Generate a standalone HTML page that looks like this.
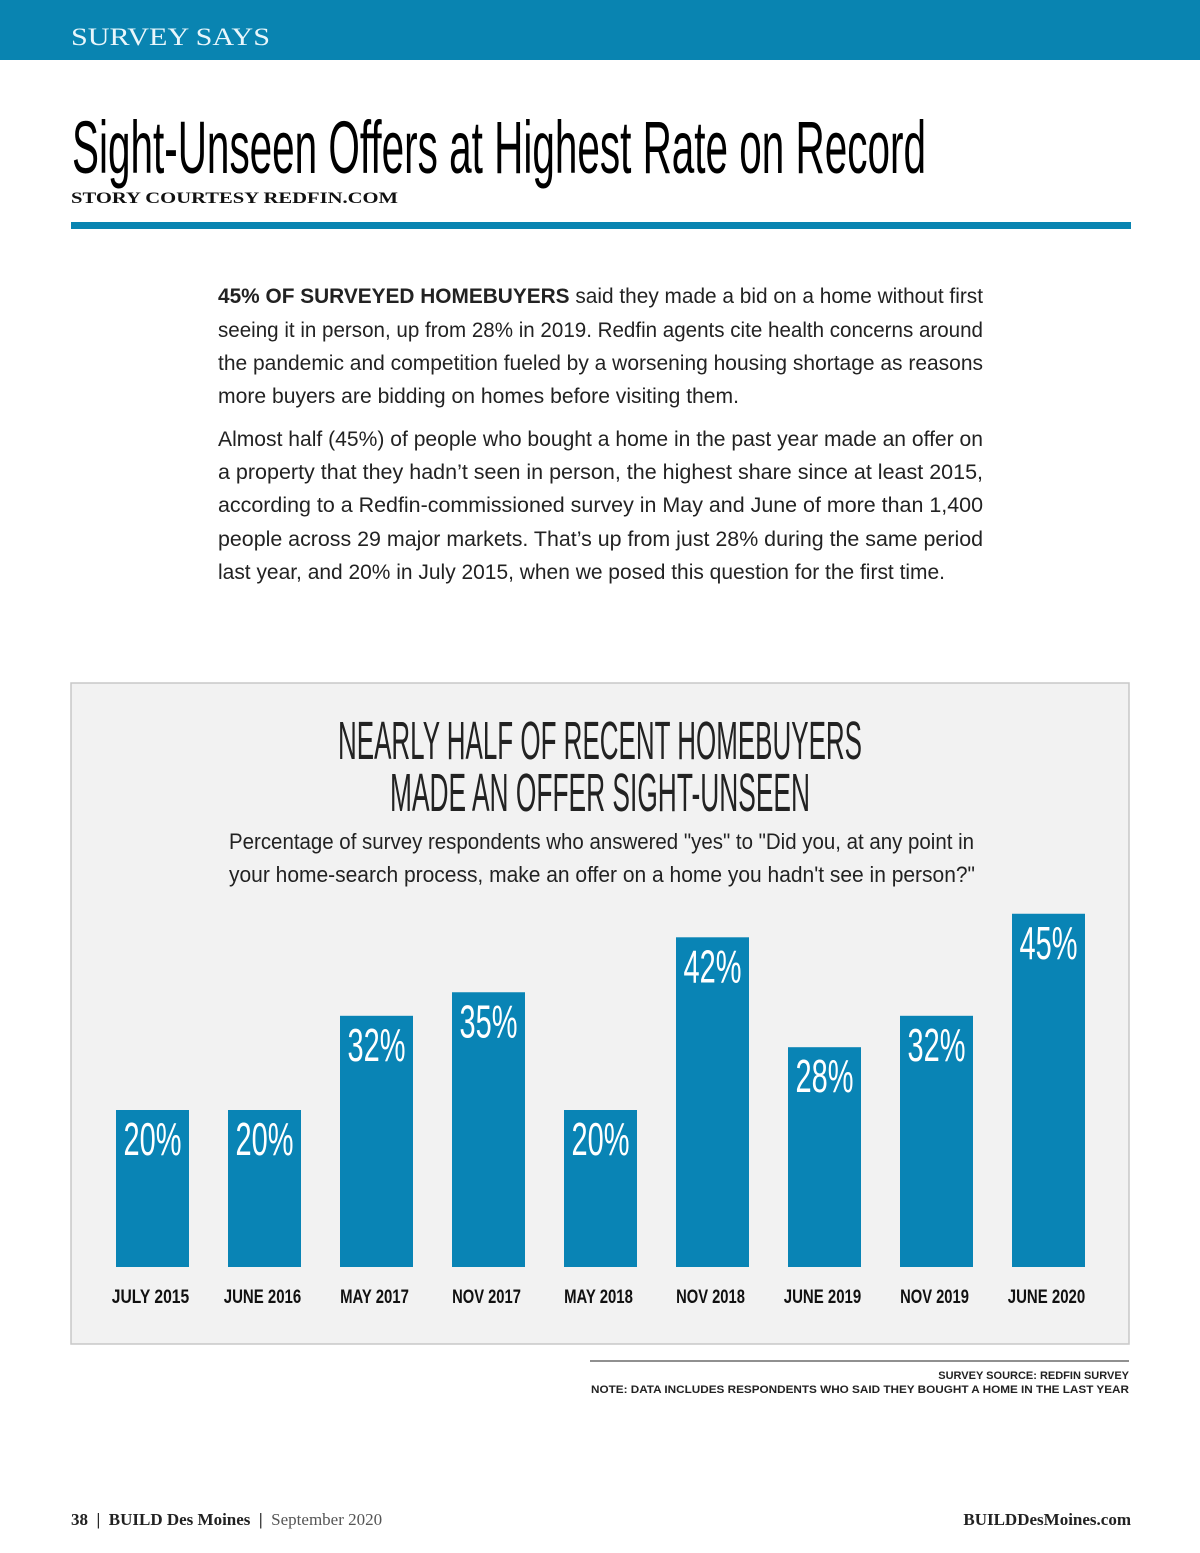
<!DOCTYPE html>
<html><head><meta charset="utf-8"><style>
html,body{margin:0;padding:0;background:#fff;}
svg{display:block;}
.sans{font-family:"Liberation Sans",sans-serif;}
.serif{font-family:"Liberation Serif",serif;}
</style></head><body>
<svg id="page" class="sans" width="1200" height="1553" viewBox="0 0 1200 1553">
<rect x="0" y="0" width="1200" height="60" fill="#0984b1"/>
<text class="serif" x="71" y="45" fill="#e8f6fb" font-size="25" textLength="199" lengthAdjust="spacingAndGlyphs">SURVEY SAYS</text>
<text class="sans" x="72" y="173" fill="#000" font-size="74" textLength="854" lengthAdjust="spacingAndGlyphs">Sight-Unseen Offers at Highest Rate on Record</text>
<text class="serif" x="71" y="203" fill="#111" font-weight="bold" font-size="16" textLength="327" lengthAdjust="spacingAndGlyphs">STORY COURTESY REDFIN.COM</text>
<rect x="71" y="222" width="1060" height="7" fill="#0984b1"/>
<g fill="#222" font-size="21">
<text x="218" y="303" textLength="765" lengthAdjust="spacingAndGlyphs"><tspan font-weight="bold">45% OF SURVEYED HOMEBUYERS</tspan> said they made a bid on a home without first</text>
<text x="218" y="337" textLength="765" lengthAdjust="spacingAndGlyphs">seeing it in person, up from 28% in 2019. Redfin agents cite health concerns around</text>
<text x="218" y="370" textLength="765" lengthAdjust="spacingAndGlyphs">the pandemic and competition fueled by a worsening housing shortage as reasons</text>
<text x="218" y="403" textLength="521" lengthAdjust="spacingAndGlyphs">more buyers are bidding on homes before visiting them.</text>
<text x="218" y="446" textLength="765" lengthAdjust="spacingAndGlyphs">Almost half (45%) of people who bought a home in the past year made an offer on</text>
<text x="218" y="479" textLength="765" lengthAdjust="spacingAndGlyphs">a property that they hadn’t seen in person, the highest share since at least 2015,</text>
<text x="218" y="512" textLength="765" lengthAdjust="spacingAndGlyphs">according to a Redfin-commissioned survey in May and June of more than 1,400</text>
<text x="218" y="546" textLength="765" lengthAdjust="spacingAndGlyphs">people across 29 major markets. That’s up from just 28% during the same period</text>
<text x="218" y="579" textLength="727" lengthAdjust="spacingAndGlyphs">last year, and 20% in July 2015, when we posed this question for the first time.</text>
</g>
<rect x="71" y="683" width="1058" height="661" fill="#f2f2f2" stroke="#c8c8c8" stroke-width="1.5"/>
<text x="600" y="759" text-anchor="middle" fill="#222" font-size="54" textLength="524" lengthAdjust="spacingAndGlyphs">NEARLY HALF OF RECENT HOMEBUYERS</text>
<text x="600" y="811" text-anchor="middle" fill="#222" font-size="54" textLength="420" lengthAdjust="spacingAndGlyphs">MADE AN OFFER SIGHT-UNSEEN</text>
<text x="229" y="849" fill="#222" font-size="22" textLength="745" lengthAdjust="spacingAndGlyphs">Percentage of survey respondents who answered "yes" to "Did you, at any point in</text>
<text x="229" y="882" fill="#222" font-size="22" textLength="746" lengthAdjust="spacingAndGlyphs">your home-search process, make an offer on a home you hadn't see in person?"</text>
<g id="bars"></g>
<line x1="590" y1="1361" x2="1129" y2="1361" stroke="#222" stroke-width="1"/>
<text x="1129" y="1379" text-anchor="end" font-size="11" font-weight="bold" fill="#222">SURVEY SOURCE: REDFIN SURVEY</text>
<text x="1129" y="1393" text-anchor="end" font-size="11" font-weight="bold" fill="#222" textLength="538" lengthAdjust="spacingAndGlyphs">NOTE: DATA INCLUDES RESPONDENTS WHO SAID THEY BOUGHT A HOME IN THE LAST YEAR</text>
<text class="serif" x="71" y="1525" font-size="17" fill="#222" xml:space="preserve"><tspan font-weight="bold">38  |  BUILD Des Moines  |</tspan><tspan fill="#555">  September 2020</tspan></text>
<text class="serif" x="1131" y="1525" text-anchor="end" font-weight="bold" font-size="17" fill="#222">BUILDDesMoines.com</text>
</svg>
<script>
const categories = ["JULY 2015","JUNE 2016","MAY 2017","NOV 2017","MAY 2018","NOV 2018","JUNE 2019","NOV 2019","JUNE 2020"];
const values = [20,20,32,35,20,42,28,32,45];
const NS="http://www.w3.org/2000/svg";
const g=document.getElementById('bars');
const baseY=1267, pxPer=7.85, firstCx=152.5, step=112, bw=73;
function xc(i){return firstCx+i*step;}
function yv(v){return baseY-v*pxPer;}
categories.forEach((c,i)=>{
  const r=document.createElementNS(NS,'rect');
  r.setAttribute('x',xc(i)-bw/2);r.setAttribute('y',yv(values[i]));
  r.setAttribute('width',bw);r.setAttribute('height',baseY-yv(values[i]));
  r.setAttribute('fill','#0984b5');
  
  
  g.appendChild(r);
  const t=document.createElementNS(NS,'text');
  t.setAttribute('x',xc(i));t.setAttribute('y',yv(values[i])+45);
  t.setAttribute('text-anchor','middle');t.setAttribute('fill','#fff');
  t.setAttribute('font-size','46');t.setAttribute('textLength','58');
  t.setAttribute('lengthAdjust','spacingAndGlyphs');
  t.textContent=values[i]+'%';
  
  
  g.appendChild(t);
  const l=document.createElementNS(NS,'text');
  l.setAttribute('x',xc(i)-2);l.setAttribute('y',1303);
  l.setAttribute('text-anchor','middle');l.setAttribute('fill','#111');
  l.setAttribute('font-size','19');l.setAttribute('font-weight','bold');
  l.setAttribute('textLength',c.length*8.6);
  l.setAttribute('lengthAdjust','spacingAndGlyphs');
  l.textContent=c;
  
  
  g.appendChild(l);
});
</script>
</body></html>
